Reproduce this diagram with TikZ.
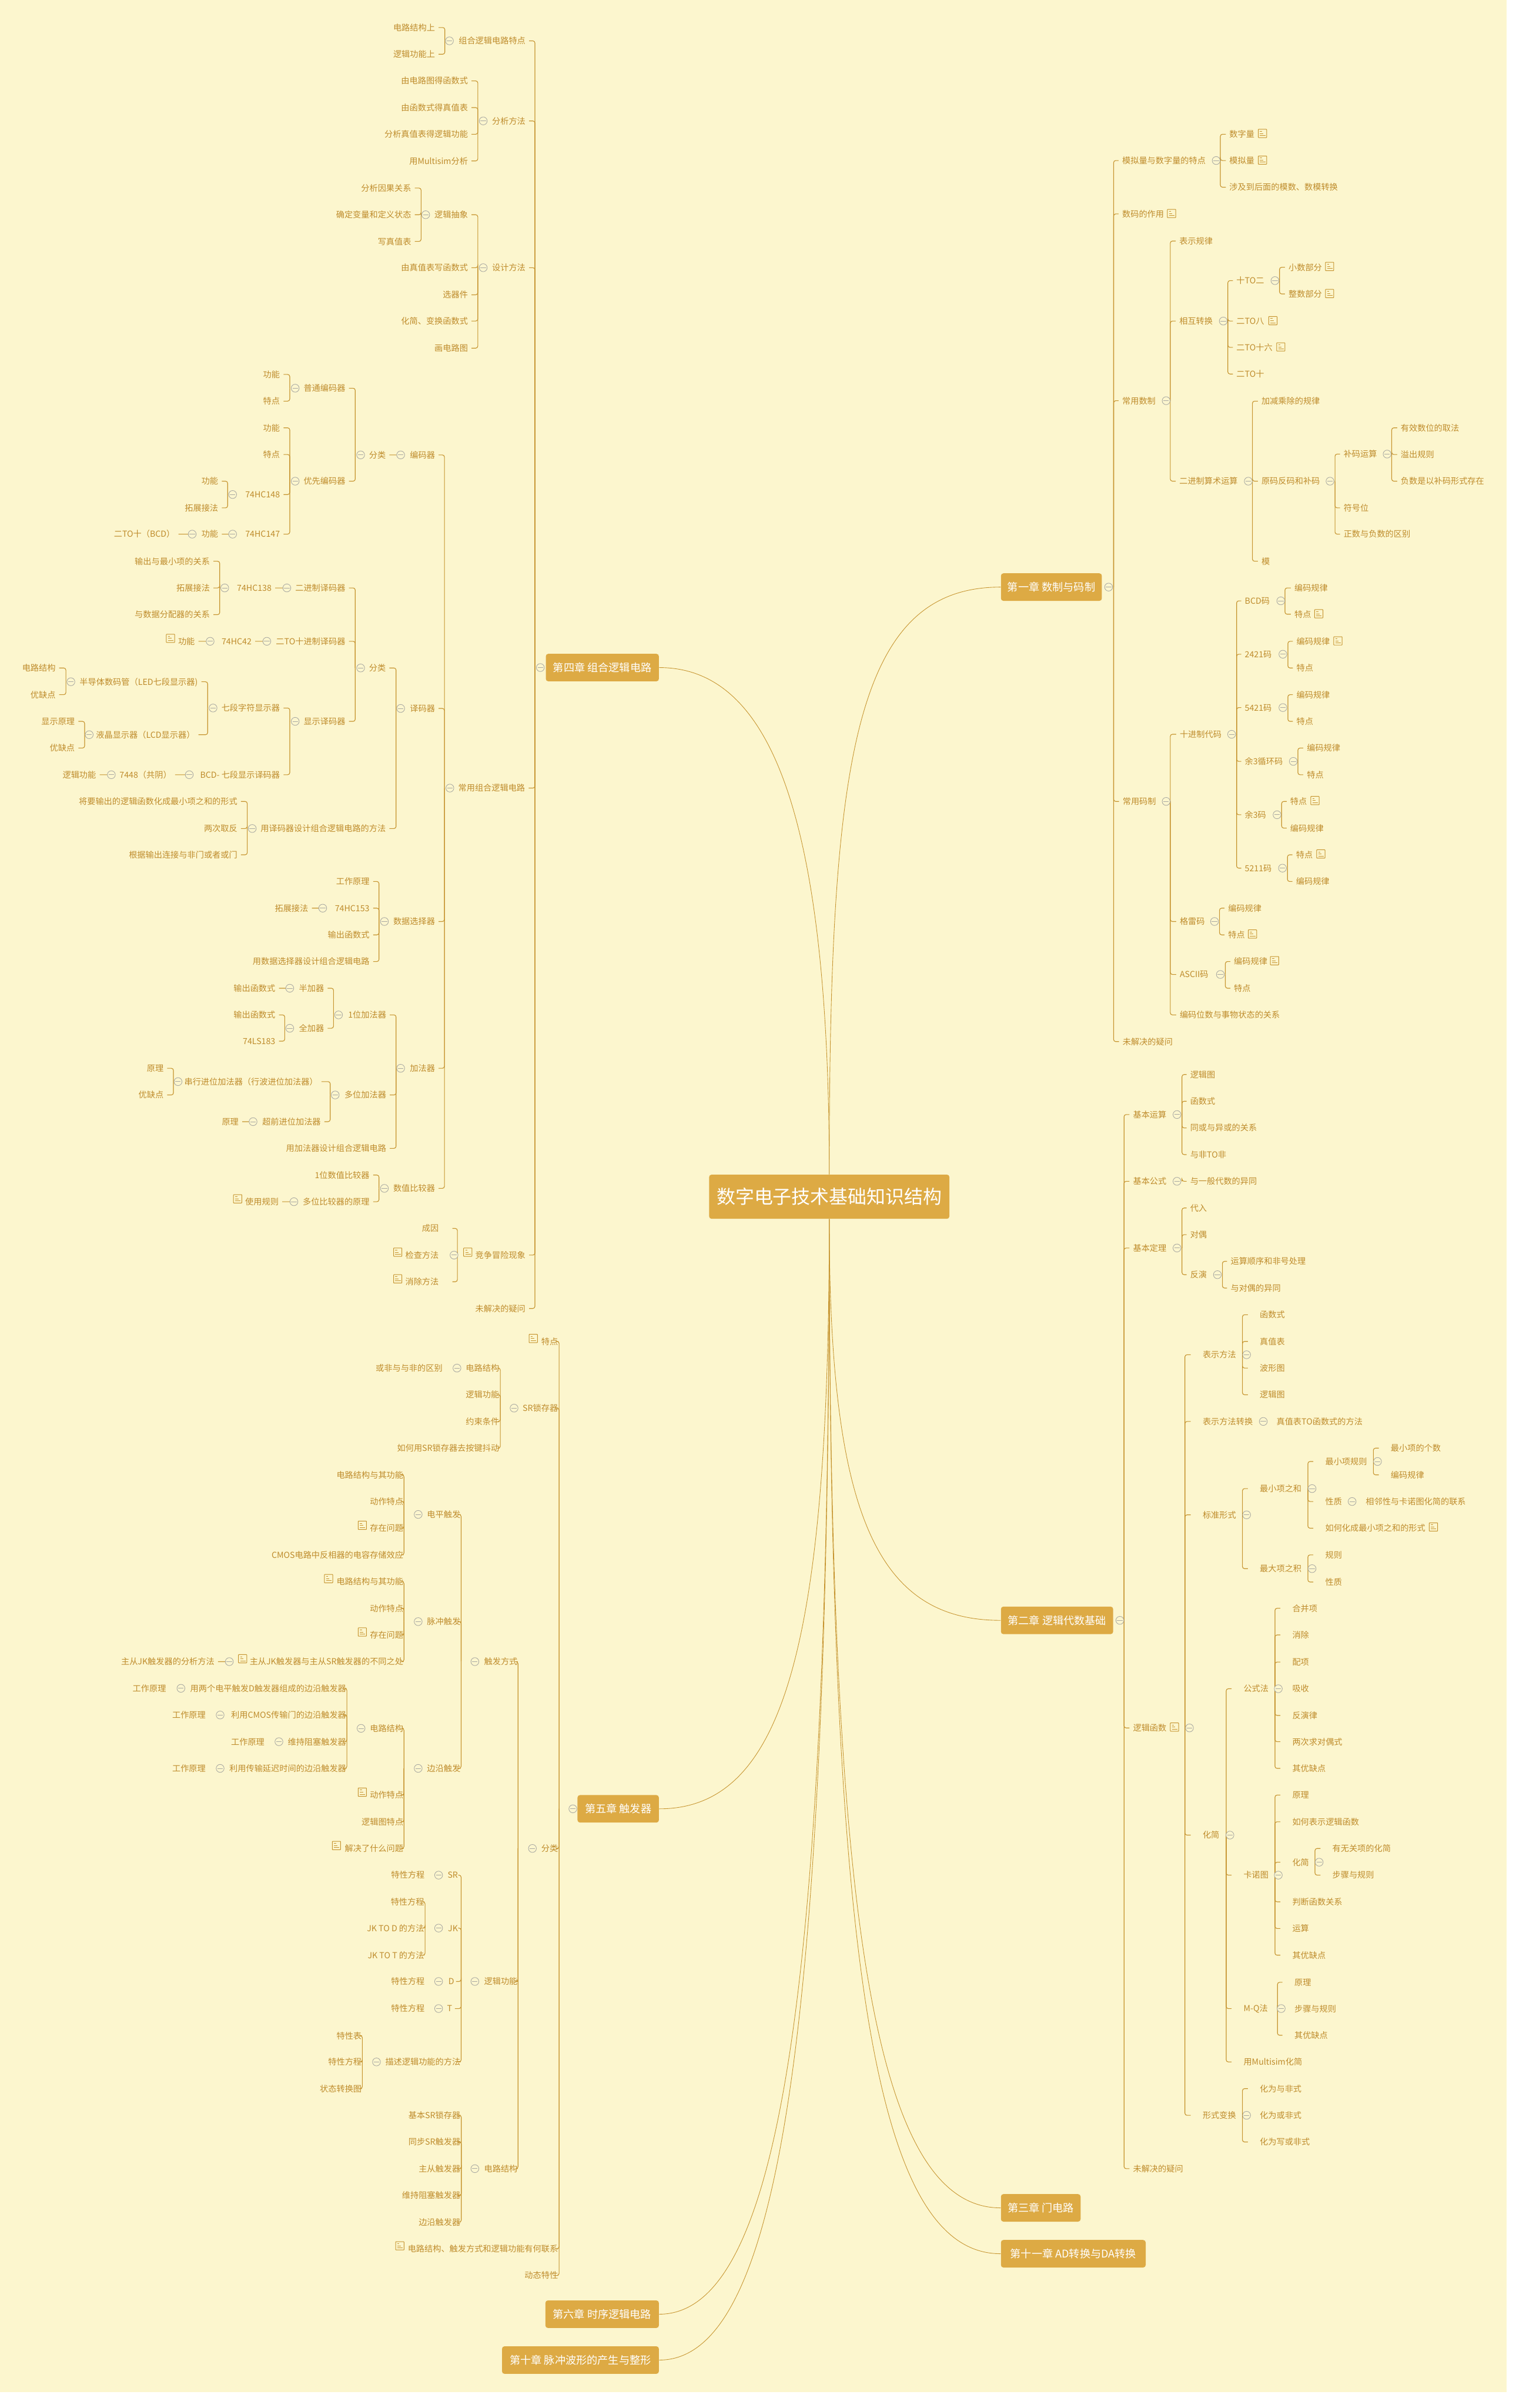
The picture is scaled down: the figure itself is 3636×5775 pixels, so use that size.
\documentclass[tikz,border=0pt]{standalone}
\usepackage{fontspec}
\setmainfont{Noto Sans CJK SC}
\usetikzlibrary{calc}
\definecolor{paper}{HTML}{FCF6CE}
\definecolor{chapbox}{HTML}{DDAA44}
\definecolor{ink}{HTML}{BF8C2C}
\definecolor{wire}{HTML}{C6942F}
\definecolor{foldgray}{HTML}{A9A9A2}

%% fork: parent, trunk x, fold x, children
\newcommand{\forkR}[4]{%
  \coordinate (#1j) at (#2,0 |- #1.center);
  \foreach \k in {#4} \draw[link] (#1j) |- (\k.west);
  \node[fold] (#1f) at (#3,0 |- #1.center) {};}
\newcommand{\forkL}[4]{%
  \coordinate (#1j) at (#2,0 |- #1.center);
  \foreach \k in {#4} \draw[link] (#1j) |- (\k.east);
  \node[fold] (#1f) at (#3,0 |- #1.center) {};}
%% fold mark with no line drawn
\newcommand{\foldon}[2]{\node[fold] (#1f) at (#2,0 |- #1.center) {};}

\begin{document}
\begin{tikzpicture}[x=0.01cm, y=-0.01cm,
    item/.style={inner sep=0pt, text=ink, text height=.176cm, text depth=.024cm,
                 font=\fontsize{5.69}{7}\selectfont},
    rt/.style={item, anchor=west},
    lf/.style={item, anchor=east},
    chap/.style={fill=chapbox, rounded corners=.06cm, text=white, inner sep=0pt,
                 minimum height=.66cm, font=\fontsize{7.28}{9}\selectfont},
    link/.style={draw=wire, line width=.45pt, rounded corners=.05cm, shorten >=.08cm},
    branch/.style={draw=wire, line width=.35pt},
    fold/.style={circle, draw=foldgray, fill=paper, line width=.35pt, minimum size=.19cm,
                 inner sep=0pt, path picture={\draw[foldgray, line width=.35pt]
                 ([xshift=-.065cm]path picture bounding box.center) --
                 ([xshift=.065cm]path picture bounding box.center);}},
    memo/.style={rectangle, draw=wire, line width=.4pt, rounded corners=.01cm,
                 minimum size=.2cm, inner sep=0pt, path picture={
                 \draw[wire, line width=.35pt]
                 ([xshift=-.06cm,yshift=.05cm]path picture bounding box.center) -- ++(.05cm,0)
                 ([xshift=-.06cm,yshift=0cm]path picture bounding box.center) -- ++(.08cm,0)
                 ([xshift=-.06cm,yshift=-.05cm]path picture bounding box.center) -- ++(.13cm,0);}}]

  \useasboundingbox (0,0) rectangle (3636,5775);
  \fill[paper] (0,0) rectangle (3613,5737);

  %% Central box and chapters
  \node[chap, minimum width=5.76cm, minimum height=1.06cm, font=\fontsize{12.8}{15}\selectfont]
    (root) at (1989,2870) {数字电子技术基础知识结构};
  \node[chap, anchor=west, minimum width=2.42cm] (ch1) at (2400,1408) {第一章 数制与码制};
  \node[chap, anchor=west, minimum width=2.69cm] (ch2) at (2400,3886) {第二章 逻辑代数基础};
  \node[chap, anchor=west, minimum width=1.91cm] (ch3) at (2400,5295) {第三章 门电路};
  \node[chap, anchor=west, minimum width=3.47cm] (ch11) at (2400,5405) {第十一章 AD转换与DA转换};
  \node[chap, anchor=east, minimum width=2.71cm] (ch4) at (1581,1601) {第四章 组合逻辑电路};
  \node[chap, anchor=east, minimum width=1.95cm] (ch5) at (1581,4338) {第五章 触发器};
  \node[chap, anchor=east, minimum width=2.72cm] (ch6) at (1581,5550) {第六章 时序逻辑电路};
  \node[chap, anchor=east, minimum width=3.76cm] (ch10) at (1581,5660) {第十章 脉冲波形的产生与整形};

  \draw[branch] (root.north) .. controls +(0,-1000) and +(-350,0) .. (ch1.west);
  \draw[branch] (root.north) .. controls +(0,-880) and +(260,0) .. (ch4.east);
  \draw[branch] (root.south) .. controls +(0,700) and +(-300,0) .. (ch2.west);
  \draw[branch] (root.south) .. controls +(0,1700) and +(-300,0) .. (ch3.west);
  \draw[branch] (root.south) .. controls +(0,1800) and +(-300,0) .. (ch11.west);
  \draw[branch] (root.south) .. controls +(0,1020) and +(300,0) .. (ch5.east);
  \draw[branch] (root.south) .. controls +(0,1900) and +(280,0) .. (ch6.east);
  \draw[branch] (root.south) .. controls +(0,2000) and +(280,0) .. (ch10.east);

  %% Chapter 1
  \node[rt] (a1) at (2691,385) {模拟量与数字量的特点};
  \node[rt] (a11) at (2948,322) {数字量};
  \node[rt] (a12) at (2948,385) {模拟量};
  \node[rt] (a13) at (2948,449) {涉及到后面的模数、数模转换};
  \node[rt] (a2) at (2691,513) {数码的作用};
  \node[rt] (a3) at (2691,961) {常用数制};
  \node[rt] (a31) at (2828,578) {表示规律};
  \node[rt] (a32) at (2828,770) {相互转换};
  \node[rt] (a321) at (2965,673) {十TO二};
  \node[rt] (a3211) at (3090,641) {小数部分};
  \node[rt] (a3212) at (3090,705) {整数部分};
  \node[rt] (a322) at (2965,770) {二TO八};
  \node[rt] (a323) at (2965,833) {二TO十六};
  \node[rt] (a324) at (2965,897) {二TO十};
  \node[rt] (a33) at (2828,1154) {二进制算术运算};
  \node[rt] (a331) at (3025,962) {加减乘除的规律};
  \node[rt] (a332) at (3025,1154) {原码反码和补码};
  \node[rt] (a3321) at (3222,1089) {补码运算};
  \node[rt] (a33211) at (3359,1026) {有效数位的取法};
  \node[rt] (a33212) at (3359,1090) {溢出规则};
  \node[rt] (a33213) at (3359,1154) {负数是以补码形式存在};
  \node[rt] (a3322) at (3222,1218) {符号位};
  \node[rt] (a3323) at (3222,1281) {正数与负数的区别};
  \node[rt] (a333) at (3025,1346) {模};
  \node[rt] (a4) at (2692,1922) {常用码制};
  \node[rt] (a41) at (2829,1761) {十进制代码};
  \node[rt] (a411) at (2985,1441) {BCD码};
  \node[rt] (a4111) at (3104,1410) {编码规律};
  \node[rt] (a4112) at (3104,1473) {特点};
  \node[rt] (a412) at (2985,1569) {2421码};
  \node[rt] (a4121) at (3109,1538) {编码规律};
  \node[rt] (a4122) at (3109,1602) {特点};
  \node[rt] (a413) at (2985,1697) {5421码};
  \node[rt] (a4131) at (3109,1666) {编码规律};
  \node[rt] (a4132) at (3109,1730) {特点};
  \node[rt] (a414) at (2985,1826) {余3循环码};
  \node[rt] (a4141) at (3134,1794) {编码规律};
  \node[rt] (a4142) at (3134,1858) {特点};
  \node[rt] (a415) at (2985,1954) {余3码};
  \node[rt] (a4151) at (3094,1922) {特点};
  \node[rt] (a4152) at (3094,1986) {编码规律};
  \node[rt] (a416) at (2985,2082) {5211码};
  \node[rt] (a4161) at (3108,2050) {特点};
  \node[rt] (a4162) at (3108,2114) {编码规律};
  \node[rt] (a42) at (2829,2210) {格雷码};
  \node[rt] (a421) at (2945,2178) {编码规律};
  \node[rt] (a422) at (2945,2242) {特点};
  \node[rt] (a43) at (2829,2337) {ASCII码};
  \node[rt] (a431) at (2959,2306) {编码规律};
  \node[rt] (a432) at (2959,2370) {特点};
  \node[rt] (a44) at (2829,2434) {编码位数与事物状态的关系};
  \node[rt] (a5) at (2692,2498) {未解决的疑问};

  \forkR{ch1}{2671}{2659}{a1,a2,a3,a4,a5}
  \forkR{a1}{2927}{2917}{a11,a12,a13}
  \forkR{a3}{2807}{2797}{a31,a32,a33}
  \forkR{a32}{2945}{2934}{a321,a322,a323,a324}
  \forkR{a321}{3069}{3058}{a3211,a3212}
  \forkR{a33}{3004}{2994}{a331,a332,a333}
  \forkR{a332}{3202}{3190}{a3321,a3322,a3323}
  \forkR{a3321}{3338}{3327}{a33211,a33212,a33213}
  \forkR{a4}{2807}{2797}{a41,a42,a43,a44}
  \forkR{a41}{2966}{2954}{a411,a412,a413,a414,a415,a416}
  \forkR{a411}{3082}{3072}{a4111,a4112}
  \forkR{a412}{3089}{3077}{a4121,a4122}
  \forkR{a413}{3089}{3077}{a4131,a4132}
  \forkR{a414}{3113}{3102}{a4141,a4142}
  \forkR{a415}{3074}{3063}{a4151,a4152}
  \forkR{a416}{3088}{3076}{a4161,a4162}
  \forkR{a42}{2925}{2913}{a421,a422}
  \forkR{a43}{2939}{2927}{a431,a432}

  %% Chapter 2
  \node[rt] (b1) at (2717,2673) {基本运算};
  \node[rt] (b11) at (2854,2577) {逻辑图};
  \node[rt] (b12) at (2854,2641) {函数式};
  \node[rt] (b13) at (2854,2705) {同或与异或的关系};
  \node[rt] (b14) at (2854,2769) {与非TO非};
  \node[rt] (b2) at (2717,2833) {基本公式};
  \node[rt] (b21) at (2854,2833) {与一般代数的异同};
  \node[rt] (b3) at (2717,2993) {基本定理};
  \node[rt] (b31) at (2854,2897) {代入};
  \node[rt] (b32) at (2854,2961) {对偶};
  \node[rt] (b33) at (2854,3057) {反演};
  \node[rt] (b331) at (2951,3025) {运算顺序和非号处理};
  \node[rt] (b332) at (2951,3089) {与对偶的异同};
  \node[rt] (b4) at (2717,4144) {逻辑函数};
  \node[rt] (b41) at (2884,3249) {表示方法};
  \node[rt] (b411) at (3021,3153) {函数式};
  \node[rt] (b412) at (3021,3217) {真值表};
  \node[rt] (b413) at (3021,3281) {波形图};
  \node[rt] (b414) at (3021,3345) {逻辑图};
  \node[rt] (b42) at (2884,3409) {表示方法转换};
  \node[rt] (b421) at (3061,3409) {真值表TO函数式的方法};
  \node[rt] (b43) at (2884,3633) {标准形式};
  \node[rt] (b431) at (3021,3570) {最小项之和};
  \node[rt] (b4311) at (3178,3505) {最小项规则};
  \node[rt] (b43111) at (3335,3473) {最小项的个数};
  \node[rt] (b43112) at (3335,3537) {编码规律};
  \node[rt] (b4312) at (3178,3601) {性质};
  \node[rt] (b43121) at (3275,3601) {相邻性与卡诺图化简的联系};
  \node[rt] (b4313) at (3178,3665) {如何化成最小项之和的形式};
  \node[rt] (b432) at (3021,3762) {最大项之积};
  \node[rt] (b4321) at (3178,3729) {规则};
  \node[rt] (b4322) at (3178,3794) {性质};
  \node[rt] (b44) at (2884,4401) {化简};
  \node[rt] (b441) at (2982,4050) {公式法};
  \node[rt] (b4411) at (3099,3857) {合并项};
  \node[rt] (b4412) at (3099,3921) {消除};
  \node[rt] (b4413) at (3099,3986) {配项};
  \node[rt] (b4414) at (3099,4050) {吸收};
  \node[rt] (b4415) at (3099,4114) {反演律};
  \node[rt] (b4416) at (3099,4177) {两次求对偶式};
  \node[rt] (b4417) at (3099,4241) {其优缺点};
  \node[rt] (b442) at (2982,4497) {卡诺图};
  \node[rt] (b4421) at (3099,4305) {原理};
  \node[rt] (b4422) at (3099,4369) {如何表示逻辑函数};
  \node[rt] (b4423) at (3099,4466) {化简};
  \node[rt] (b44231) at (3195,4433) {有无关项的化简};
  \node[rt] (b44232) at (3195,4497) {步骤与规则};
  \node[rt] (b4424) at (3099,4561) {判断函数关系};
  \node[rt] (b4425) at (3099,4625) {运算};
  \node[rt] (b4426) at (3099,4689) {其优缺点};
  \node[rt] (b443) at (2982,4817) {M-Q法};
  \node[rt] (b4431) at (3104,4754) {原理};
  \node[rt] (b4432) at (3104,4818) {步骤与规则};
  \node[rt] (b4433) at (3104,4881) {其优缺点};
  \node[rt] (b444) at (2982,4945) {用Multisim化简};
  \node[rt] (b45) at (2884,5073) {形式变换};
  \node[rt] (b451) at (3021,5009) {化为与非式};
  \node[rt] (b452) at (3021,5073) {化为或非式};
  \node[rt] (b453) at (3021,5137) {化为写或非式};
  \node[rt] (b5) at (2717,5201) {未解决的疑问};

  \forkR{ch2}{2696}{2686}{b1,b2,b3,b4,b5}
  \forkR{b1}{2835}{2823}{b11,b12,b13,b14}
  \forkR{b2}{2835}{2823}{b21}
  \forkR{b3}{2835}{2823}{b31,b32,b33}
  \forkR{b33}{2932}{2920}{b331,b332}
  \begin{scope}[link/.append style={shorten >=.28cm}]
    \forkR{b4}{2842}{2853}{b41,b42,b43,b44,b45}
    \forkR{b41}{2980}{2990}{b411,b412,b413,b414}
    \foldon{b42}{3030}
    \forkR{b43}{2980}{2990}{b431,b432}
    \forkR{b431}{3137}{3147}{b4311,b4312,b4313}
    \forkR{b4311}{3294}{3304}{b43111,b43112}
    \foldon{b4312}{3243}
    \forkR{b432}{3137}{3147}{b4321,b4322}
    \forkR{b44}{2941}{2950}{b441,b442,b443,b444}
    \forkR{b441}{3058}{3066}{b4411,b4412,b4413,b4414,b4415,b4416,b4417}
    \forkR{b442}{3058}{3066}{b4421,b4422,b4423,b4424,b4425,b4426}
    \forkR{b4423}{3154}{3164}{b44231,b44232}
    \forkR{b443}{3064}{3073}{b4431,b4432,b4433}
    \forkR{b45}{2980}{2990}{b451,b452,b453}
  \end{scope}

  %% Chapter 4
  \node[lf] (d1) at (1261,98) {组合逻辑电路特点};
  \node[lf] (d11) at (1044,66) {电路结构上};
  \node[lf] (d12) at (1044,130) {逻辑功能上};
  \node[lf] (d2) at (1261,290) {分析方法};
  \node[lf] (d21) at (1123,194) {由电路图得函数式};
  \node[lf] (d22) at (1123,258) {由函数式得真值表};
  \node[lf] (d23) at (1123,322) {分析真值表得逻辑功能};
  \node[lf] (d24) at (1123,386) {用Multisim分析};
  \node[lf] (d3) at (1261,642) {设计方法};
  \node[lf] (d31) at (1123,515) {逻辑抽象};
  \node[lf] (d311) at (987,451) {分析因果关系};
  \node[lf] (d312) at (987,515) {确定变量和定义状态};
  \node[lf] (d313) at (987,579) {写真值表};
  \node[lf] (d32) at (1123,642) {由真值表写函数式};
  \node[lf] (d33) at (1123,707) {选器件};
  \node[lf] (d34) at (1123,770) {化简、变换函数式};
  \node[lf] (d35) at (1123,835) {画电路图};
  \node[lf] (d4) at (1260,1890) {常用组合逻辑电路};
  \node[lf] (d41) at (1044,1091) {编码器};
  \node[lf] (d411) at (926,1091) {分类};
  \node[lf] (d4111) at (829,931) {普通编码器};
  \node[lf] (d41111) at (672,898) {功能};
  \node[lf] (d41112) at (672,962) {特点};
  \node[lf] (d4112) at (829,1154) {优先编码器};
  \node[lf] (d41121) at (672,1026) {功能};
  \node[lf] (d41122) at (672,1090) {特点};
  \node[lf] (d41123) at (672,1186) {74HC148};
  \node[lf] (d411231) at (524,1154) {功能};
  \node[lf] (d411232) at (524,1218) {拓展接法};
  \node[lf] (d41124) at (672,1281) {74HC147};
  \node[lf] (d411241) at (524,1281) {功能};
  \node[lf] (d4112411) at (420,1281) {二TO十（BCD）};
  \node[lf] (d42) at (1044,1699) {译码器};
  \node[lf] (d421) at (926,1602) {分类};
  \node[lf] (d4211) at (829,1410) {二进制译码器};
  \node[lf] (d42111) at (652,1410) {74HC138};
  \node[lf] (d421111) at (504,1346) {输出与最小项的关系};
  \node[lf] (d421112) at (504,1410) {拓展接法};
  \node[lf] (d421113) at (504,1474) {与数据分配器的关系};
  \node[lf] (d4212) at (829,1538) {二TO十进制译码器};
  \node[lf] (d42121) at (604,1538) {74HC42};
  \node[lf] (d421211) at (468,1538) {功能};
  \node[lf] (d4213) at (829,1730) {显示译码器};
  \node[lf] (d42131) at (672,1698) {七段字符显示器};
  \node[lf] (d421311) at (475,1635) {半导体数码管（LED七段显示器)};
  \node[lf] (d4213111) at (134,1602) {电路结构};
  \node[lf] (d4213112) at (134,1666) {优缺点};
  \node[lf] (d421312) at (468,1762) {液晶显示器（LCD显示器）};
  \node[lf] (d4213121) at (180,1730) {显示原理};
  \node[lf] (d4213122) at (180,1794) {优缺点};
  \node[lf] (d42132) at (672,1858) {BCD- 七段显示译码器};
  \node[lf] (d421321) at (412,1858) {7448（共阴）};
  \node[lf] (d4213211) at (231,1858) {逻辑功能};
  \node[lf] (d422) at (926,1987) {用译码器设计组合逻辑电路的方法};
  \node[lf] (d4221) at (570,1922) {将要输出的逻辑函数化成最小项之和的形式};
  \node[lf] (d4222) at (570,1987) {两次取反};
  \node[lf] (d4223) at (570,2050) {根据输出连接与非门或者或门};
  \node[lf] (d43) at (1044,2210) {数据选择器};
  \node[lf] (d431) at (887,2114) {工作原理};
  \node[lf] (d432) at (887,2178) {74HC153};
  \node[lf] (d4321) at (740,2178) {拓展接法};
  \node[lf] (d433) at (887,2242) {输出函数式};
  \node[lf] (d434) at (887,2306) {用数据选择器设计组合逻辑电路};
  \node[lf] (d44) at (1044,2562) {加法器};
  \node[lf] (d441) at (927,2434) {1位加法器};
  \node[lf] (d4411) at (778,2370) {半加器};
  \node[lf] (d44111) at (661,2370) {输出函数式};
  \node[lf] (d4412) at (778,2466) {全加器};
  \node[lf] (d44121) at (661,2434) {输出函数式};
  \node[lf] (d44122) at (661,2497) {74LS183};
  \node[lf] (d442) at (927,2626) {多位加法器};
  \node[lf] (d4421) at (763,2594) {串行进位加法器（行波进位加法器）};
  \node[lf] (d44211) at (393,2562) {原理};
  \node[lf] (d44212) at (393,2626) {优缺点};
  \node[lf] (d4422) at (770,2690) {超前进位加法器};
  \node[lf] (d44221) at (573,2690) {原理};
  \node[lf] (d443) at (927,2754) {用加法器设计组合逻辑电路};
  \node[lf] (d45) at (1044,2850) {数值比较器};
  \node[lf] (d451) at (887,2818) {1位数值比较器};
  \node[lf] (d452) at (887,2882) {多位比较器的原理};
  \node[lf] (d4521) at (669,2882) {使用规则};
  \node[lf] (d5) at (1261,3010) {竞争冒险现象};
  \node[lf] (d51) at (1053,2946) {成因};
  \node[lf] (d52) at (1053,3010) {检查方法};
  \node[lf] (d53) at (1053,3074) {消除方法};
  \node[lf] (d6) at (1261,3138) {未解决的疑问};

  \forkL{ch4}{1283}{1296}{d1,d2,d3,d4,d5,d6}
  \forkL{d1}{1067}{1078}{d11,d12}
  \forkL{d2}{1146}{1159}{d21,d22,d23,d24}
  \forkL{d3}{1146}{1159}{d31,d32,d33,d34,d35}
  \forkL{d31}{1010}{1021}{d311,d312,d313}
  \forkL{d4}{1066}{1079}{d41,d42,d43,d44,d45}
  \forkL{d41}{961}{961}{d411}
  \forkL{d411}{852}{865}{d4111,d4112}
  \forkL{d4111}{695}{708}{d41111,d41112}
  \forkL{d4112}{695}{708}{d41121,d41122,d41123,d41124}
  \forkL{d41123}{546}{558}{d411231,d411232}
  \forkL{d41124}{558}{558}{d411241}
  \forkL{d411241}{461}{461}{d4112411}
  \forkL{d42}{950}{961}{d421,d422}
  \forkL{d421}{852}{865}{d4211,d4212,d4213}
  \forkL{d4211}{688}{688}{d42111}
  \forkL{d42111}{527}{539}{d421111,d421112,d421113}
  \forkL{d4212}{640}{640}{d42121}
  \forkL{d42121}{504}{504}{d421211}
  \forkL{d4213}{695}{708}{d42131,d42132}
  \forkL{d42131}{498}{511}{d421311,d421312}
  \forkL{d421311}{158}{170}{d4213111,d4213112}
  \forkL{d421312}{203}{214}{d4213121,d4213122}
  \forkL{d42132}{454}{454}{d421321}
  \forkL{d421321}{267}{267}{d4213211}
  \forkL{d422}{593}{605}{d4221,d4222,d4223}
  \forkL{d43}{909}{922}{d431,d432,d433,d434}
  \forkL{d432}{774}{774}{d4321}
  \forkL{d44}{950}{961}{d441,d442,d443}
  \forkL{d441}{800}{812}{d4411,d4412}
  \forkL{d4411}{695}{695}{d44111}
  \forkL{d4412}{683}{695}{d44121,d44122}
  \forkL{d442}{792}{804}{d4421,d4422}
  \forkL{d4421}{416}{427}{d44211,d44212}
  \forkL{d4422}{607}{607}{d44221}
  \forkL{d45}{909}{922}{d451,d452}
  \forkL{d452}{705}{705}{d4521}
  \begin{scope}[link/.append style={shorten >=.32cm}]
    \forkL{d5}{1097}{1089}{d51,d52,d53}
  \end{scope}

  %% Chapter 5
  \node[lf] (e1) at (1339,3217) {特点};
  \node[lf] (e2) at (1339,3377) {SR锁存器};
  \node[lf] (e21) at (1198,3281) {电路结构};
  \node[lf] (e211) at (1062,3281) {或非与与非的区别};
  \node[lf] (e22) at (1198,3345) {逻辑功能};
  \node[lf] (e23) at (1198,3409) {约束条件};
  \node[lf] (e24) at (1198,3473) {如何用SR锁存器去按键抖动};
  \node[lf] (e3) at (1339,4433) {分类};
  \node[lf] (e31) at (1242,3985) {触发方式};
  \node[lf] (e311) at (1105,3632) {电平触发};
  \node[lf] (e3111) at (968,3537) {电路结构与其功能};
  \node[lf] (e3112) at (968,3601) {动作特点};
  \node[lf] (e3113) at (968,3665) {存在问题};
  \node[lf] (e3114) at (968,3729) {CMOS电路中反相器的电容存储效应};
  \node[lf] (e312) at (1105,3889) {脉冲触发};
  \node[lf] (e3121) at (968,3793) {电路结构与其功能};
  \node[lf] (e3122) at (968,3857) {动作特点};
  \node[lf] (e3123) at (968,3921) {存在问题};
  \node[lf] (e3124) at (968,3985) {主从JK触发器与主从SR触发器的不同之处};
  \node[lf] (e31241) at (515,3985) {主从JK触发器的分析方法};
  \node[lf] (e313) at (1105,4241) {边沿触发};
  \node[lf] (e3131) at (968,4145) {电路结构};
  \node[lf] (e31311) at (831,4049) {用两个电平触发D触发器组成的边沿触发器};
  \node[lf] (e313111) at (399,4049) {工作原理};
  \node[lf] (e31312) at (831,4113) {利用CMOS传输门的边沿触发器};
  \node[lf] (e313121) at (494,4113) {工作原理};
  \node[lf] (e31313) at (831,4177) {维持阻塞触发器};
  \node[lf] (e313131) at (635,4177) {工作原理};
  \node[lf] (e31314) at (831,4241) {利用传输延迟时间的边沿触发器};
  \node[lf] (e313141) at (494,4241) {工作原理};
  \node[lf] (e3132) at (968,4305) {动作特点};
  \node[lf] (e3133) at (968,4369) {逻辑图特点};
  \node[lf] (e3134) at (968,4433) {解决了什么问题};
  \node[lf] (e32) at (1242,4752) {逻辑功能};
  \node[lf] (e321) at (1099,4497) {SR};
  \node[lf] (e3211) at (1019,4497) {特性方程};
  \node[lf] (e322) at (1099,4624) {JK};
  \node[lf] (e3221) at (1018,4561) {特性方程};
  \node[lf] (e3222) at (1018,4624) {JK TO D 的方法};
  \node[lf] (e3223) at (1018,4689) {JK TO T 的方法};
  \node[lf] (e323) at (1090,4752) {D};
  \node[lf] (e3231) at (1019,4752) {特性方程};
  \node[lf] (e324) at (1085,4817) {T};
  \node[lf] (e3241) at (1019,4817) {特性方程};
  \node[lf] (e325) at (1105,4945) {描述逻辑功能的方法};
  \node[lf] (e3251) at (868,4882) {特性表};
  \node[lf] (e3252) at (868,4945) {特性方程};
  \node[lf] (e3253) at (868,5009) {状态转换图};
  \node[lf] (e33) at (1242,5201) {电路结构};
  \node[lf] (e331) at (1105,5073) {基本SR锁存器};
  \node[lf] (e332) at (1105,5137) {同步SR触发器};
  \node[lf] (e333) at (1105,5201) {主从触发器};
  \node[lf] (e334) at (1105,5265) {维持阻塞触发器};
  \node[lf] (e335) at (1105,5329) {边沿触发器};
  \node[lf] (e4) at (1339,5393) {电路结构、触发方式和逻辑功能有何联系};
  \node[lf] (e5) at (1339,5457) {动态特性};

  \forkL{e3124}{550}{550}{e31241}
  \begin{scope}[link/.append style={shorten >=0pt}]
    \forkL{ch5}{1341}{1374}{e1,e2,e3,e4,e5}
    \forkL{e2}{1200}{1233}{e21,e22,e23,e24}
    \foldon{e21}{1096}
    \forkL{e3}{1242.5}{1277}{e31,e32,e33}
    \forkL{e31}{1106}{1139}{e311,e312,e313}
    \forkL{e311}{969}{1003}{e3111,e3112,e3113,e3114}
    \forkL{e312}{969}{1003}{e3121,e3122,e3123,e3124}
    \forkL{e313}{969}{1003}{e3131,e3132,e3133,e3134}
    \forkL{e3131}{832}{866}{e31311,e31312,e31313,e31314}
    \foldon{e31311}{434}
    \foldon{e31312}{528}
    \foldon{e31313}{669}
    \foldon{e31314}{528}
    \forkL{e32}{1106}{1139}{e321,e322,e325}
    \draw[link, shorten >=.04cm] (e32j) |- (e323.east);
    \draw[link, shorten >=.06cm] (e32j) |- (e324.east);
    \foldon{e321}{1052}
    \forkL{e322}{1019.5}{1052}{e3221,e3222,e3223}
    \foldon{e323}{1052}
    \foldon{e324}{1052}
    \forkL{e325}{869}{903}{e3251,e3252,e3253}
    \forkL{e33}{1106.5}{1139}{e331,e332,e333,e334,e335}
  \end{scope}

  %% Note marks
  \foreach \x/\y [count=\i] in {3028/320,3028/384,2810/512,3189/639,3189/704,3053/769,3072/832,
      3163/1472,3209/1537,3154/1920,3168/2048,3004/2240,3057/2304,3438/3662,2817/4142,
      409/1531,570/2875,954/3003,954/3067,1122/3003,1279/3210,869/3658,788/3786,869/3914,
      582/3978,869/4298,807/4426,959/5386}
    \node[memo] (m\i) at (\x,\y) {};
\end{tikzpicture}
\end{document}
